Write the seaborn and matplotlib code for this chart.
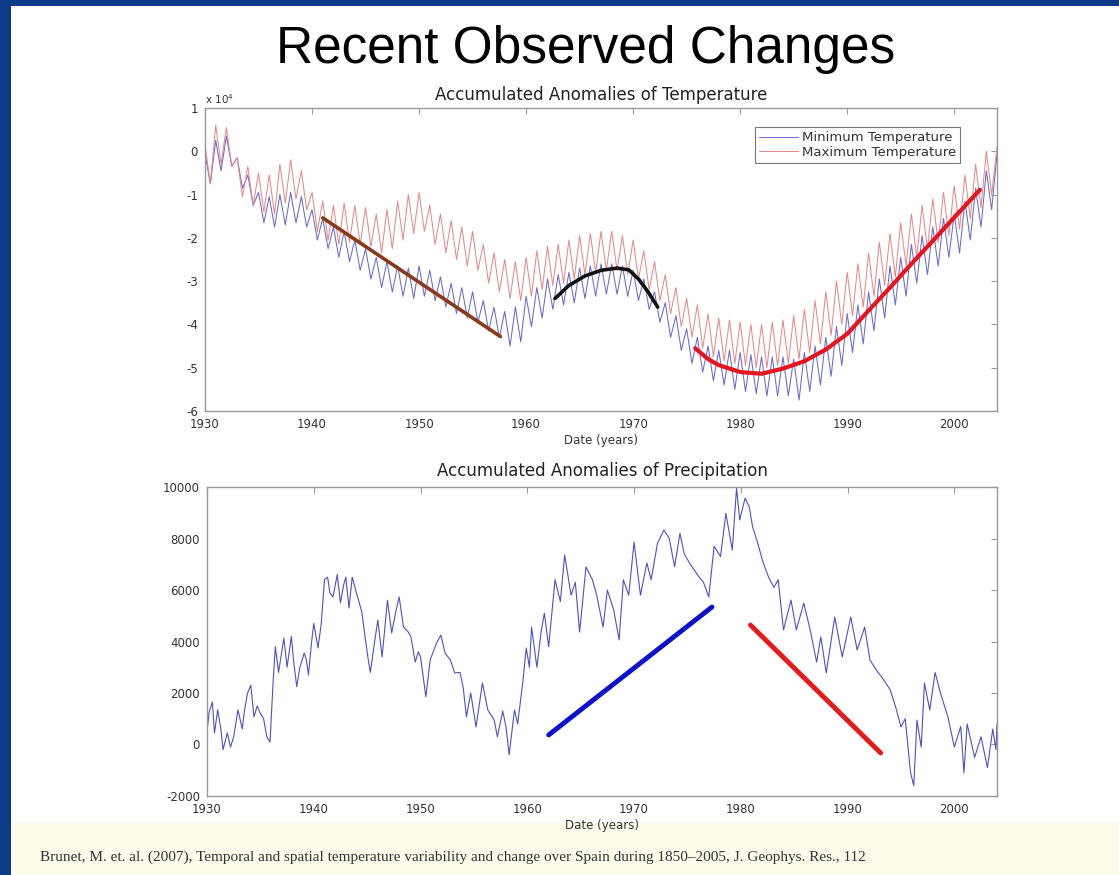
import numpy as np
import pandas as pd
import matplotlib
matplotlib.use("Agg")
import matplotlib.pyplot as plt
import seaborn as sns
from matplotlib.patches import Rectangle

# ---------------- data: temperature (accumulated anomalies, x 10^4) ----------------
crest_years = list(range(1930, 2005))                 # 75 crests
trough_years = [y + 0.5 for y in range(1930, 2004)]   # 74 troughs

tmin_crest = [-0.05, 0.25, 0.35, -0.15, -0.55, -0.95, -1.05, -1.0, -0.95, -1.05,
              -1.35, -1.55, -1.75, -1.85, -2.05, -2.25, -2.45, -2.55, -2.65, -2.7,
              -2.65, -2.75, -2.9, -3.05, -3.15, -3.25, -3.45, -3.6, -3.7, -3.6,
              -3.35, -3.15, -2.95, -2.85, -2.8, -2.7, -2.65, -2.6, -2.6, -2.65,
              -2.75, -2.95, -3.25, -3.5, -3.8, -4.1, -4.3, -4.5, -4.6, -4.6,
              -4.65, -4.7, -4.75, -4.75, -4.75, -4.8, -4.65, -4.5, -4.3, -4.05,
              -3.75, -3.55, -3.25, -2.95, -2.65, -2.45, -2.15, -1.95, -1.75, -1.55,
              -1.45, -1.15, -0.85, -0.45, -0.05]
tmin_trough = [-0.75, -0.45, -0.35, -0.85, -1.25, -1.65, -1.75, -1.7, -1.65, -1.75,
               -2.05, -2.25, -2.45, -2.55, -2.75, -2.95, -3.15, -3.25, -3.35, -3.4,
               -3.35, -3.45, -3.6, -3.75, -3.85, -3.95, -4.15, -4.3, -4.5, -4.4,
               -4.05, -3.85, -3.65, -3.55, -3.5, -3.4, -3.35, -3.3, -3.3, -3.35,
               -3.45, -3.65, -3.95, -4.3, -4.6, -4.9, -5.1, -5.3, -5.4, -5.5,
               -5.55, -5.6, -5.65, -5.65, -5.65, -5.75, -5.55, -5.4, -5.2, -4.95,
               -4.65, -4.45, -4.15, -3.85, -3.55, -3.35, -3.05, -2.85, -2.65, -2.45,
               -2.35, -2.05, -1.75, -1.35]
tmax_crest = [0.15, 0.6, 0.55, -0.15, -0.35, -0.5, -0.55, -0.3, -0.2, -0.45,
              -0.95, -1.15, -1.25, -1.2, -1.25, -1.3, -1.45, -1.35, -1.15, -1.0,
              -0.95, -1.25, -1.45, -1.6, -1.75, -1.85, -2.15, -2.35, -2.5, -2.55,
              -2.45, -2.3, -2.2, -2.15, -2.05, -1.95, -1.9, -1.85, -1.85, -1.95,
              -2.05, -2.3, -2.55, -2.85, -3.15, -3.4, -3.55, -3.75, -3.85, -3.9,
              -3.95, -4.0, -4.0, -3.95, -3.9, -3.8, -3.65, -3.45, -3.25, -3.0,
              -2.8, -2.6, -2.35, -2.1, -1.9, -1.65, -1.45, -1.25, -1.1, -0.95,
              -0.8, -0.55, -0.3, 0.0, 0.1]
tmax_trough = [-0.75, -0.3, -0.35, -1.05, -1.25, -1.4, -1.45, -1.2, -1.1, -1.35,
               -1.85, -2.05, -2.15, -2.1, -2.15, -2.2, -2.35, -2.25, -2.05, -1.9,
               -1.85, -2.15, -2.35, -2.5, -2.65, -2.75, -3.05, -3.25, -3.4, -3.45,
               -3.35, -3.2, -3.1, -3.05, -2.95, -2.85, -2.8, -2.75, -2.75, -2.85,
               -2.95, -3.2, -3.45, -3.75, -4.05, -4.3, -4.55, -4.75, -4.85, -4.9,
               -4.95, -5.0, -5.0, -4.95, -4.9, -4.8, -4.65, -4.45, -4.25, -4.0,
               -3.8, -3.6, -3.35, -3.1, -2.9, -2.65, -2.45, -2.25, -2.1, -1.95,
               -1.8, -1.55, -1.3, -1.0]

fit1_years = [1941.0, 1957.6]
fit1_vals = [-1.54, -4.28]
fit2_years = [1962.7, 1964.0, 1965.5, 1967.0, 1968.5, 1969.6, 1970.5, 1971.4, 1972.3]
fit2_vals = [-3.4, -3.1, -2.88, -2.75, -2.7, -2.74, -2.95, -3.25, -3.6]
fit3_years = [1975.8, 1977.0, 1978.0, 1980.0, 1982.0, 1984.0, 1986.0, 1988.0, 1990.0,
              1992.0, 1994.0, 1996.0, 1998.0, 2000.0, 2002.4]
fit3_vals = [-4.55, -4.8, -4.94, -5.1, -5.14, -5.02, -4.85, -4.58, -4.22,
             -3.68, -3.15, -2.6, -2.07, -1.53, -0.89]

# ---------------- data: precipitation ----------------
prec_years = [1930.0, 1930.2, 1930.5, 1930.7, 1931.0, 1931.3, 1931.5, 1931.9, 1932.2, 1932.5,
              1932.9, 1933.3, 1933.5, 1933.8, 1934.1, 1934.4, 1934.7, 1935.0, 1935.3, 1935.6,
              1935.9, 1936.2, 1936.4, 1936.7, 1937.0, 1937.2, 1937.5, 1937.9, 1938.1, 1938.4,
              1938.7, 1939.1, 1939.3, 1939.5, 1939.8, 1940.0, 1940.4, 1940.7, 1941.0, 1941.3,
              1941.5, 1941.8, 1942.2, 1942.5, 1942.8, 1943.0, 1943.3, 1943.6, 1944.0, 1944.5,
              1944.8, 1945.1, 1945.3, 1945.7, 1946.0, 1946.4, 1946.9, 1947.3, 1947.7, 1948.0,
              1948.4, 1948.8, 1949.1, 1949.5, 1949.8, 1950.0, 1950.5, 1950.9, 1951.5, 1951.9,
              1952.3, 1952.8, 1953.2, 1953.7, 1954.0, 1954.3, 1954.7, 1955.2, 1955.8, 1956.3,
              1956.9, 1957.2, 1957.7, 1958.0, 1958.3, 1958.8, 1959.1, 1959.6, 1959.9, 1960.2,
              1960.4, 1960.9, 1961.3, 1961.6, 1962.0, 1962.6, 1963.1, 1963.5, 1964.1, 1964.5,
              1964.9, 1965.5, 1966.1, 1966.5, 1967.1, 1967.5, 1968.1, 1968.6, 1969.0, 1969.5,
              1970.0, 1970.6, 1971.2, 1971.6, 1972.2, 1972.8, 1973.3, 1973.8, 1974.3, 1974.7,
              1975.2, 1975.6, 1976.1, 1976.5, 1977.0, 1977.5, 1978.1, 1978.6, 1979.2, 1979.6,
              1979.9, 1980.4, 1980.8, 1981.1, 1981.5, 1982.1, 1982.6, 1983.1, 1983.5, 1984.0,
              1984.7, 1985.2, 1985.9, 1986.5, 1987.1, 1987.5, 1988.0, 1988.8, 1989.5, 1990.3,
              1990.9, 1991.6, 1992.1, 1992.7, 1993.4, 1994.0, 1994.5, 1995.0, 1995.4, 1995.9,
              1996.2, 1996.5, 1996.9, 1997.2, 1997.7, 1998.2, 1998.7, 1999.4, 2000.0, 2000.6,
              2000.9, 2001.2, 2001.9, 2002.5, 2003.1, 2003.6, 2003.9, 2004.0]
prec_vals = [500, 1250, 1650, 450, 1350, 600, -200, 450, -100, 300,
             1350, 600, 1300, 2000, 2300, 1070, 1500, 1200, 1000, 300,
             100, 2500, 3800, 2800, 3600, 4130, 3000, 4200, 3300, 2250,
             3000, 3550, 3300, 2700, 4000, 4700, 3750, 4700, 6400, 6500,
             5900, 5730, 6600, 5500, 6200, 6500, 5300, 6500, 5880, 5150,
             4200, 3300, 2800, 4000, 4830, 3400, 5600, 4330, 5200, 5730,
             4560, 4400, 4180, 3200, 3600, 3400, 1850, 3280, 3940, 4250,
             3550, 3280, 2780, 2800, 2200, 1070, 2000, 680, 2390, 1340,
             950, 300, 1300, 700, -400, 1340, 800, 2500, 3750, 3000,
             4560, 3000, 4400, 5100, 3800, 6400, 5550, 7360, 5800, 6300,
             4370, 6900, 6400, 5800, 4560, 6000, 5220, 4060, 6400, 5800,
             7860, 5800, 7050, 6400, 7820, 8330, 8000, 6900, 8200, 7400,
             7050, 6800, 6500, 6300, 5730, 7700, 7300, 8980, 7550, 9960,
             8720, 9570, 9220, 8460, 7940, 7050, 6500, 6100, 6400, 4450,
             5610, 4450, 5490, 4450, 3200, 4180, 2780, 4950, 3400, 4950,
             3670, 4560, 3280, 2890, 2500, 2120, 1460, 680, 1000, -1100,
             -1600, 950, -100, 2390, 1340, 2800, 2000, 1070, -100, 700,
             -1100, 800, -500, 300, -900, 600, -200, 800]

pfit1_years = [1962.0, 1977.3]
pfit1_vals = [370, 5340]
pfit2_years = [1980.9, 1993.1]
pfit2_vals = [4640, -330]

temp_yticks = [-6, -5, -4, -3, -2, -1, 0, 1]
prec_yticks = [-2000, 0, 2000, 4000, 6000, 8000, 10000]
xticks = [1930, 1940, 1950, 1960, 1970, 1980, 1990, 2000]

# ---------------- styling ----------------
sns.set_theme(style="white")
plt.rcParams['font.family'] = ['DejaVu Sans']
plt.rcParams['axes.unicode_minus'] = False

fig = plt.figure(figsize=(11.19, 8.75), dpi=100)
fig.patch.set_facecolor("white")

# slide decorations
fig.add_artist(Rectangle((0, 0), 0.0098, 1, transform=fig.transFigure,
                         facecolor="#0a3a88", edgecolor="none", zorder=0))
fig.add_artist(Rectangle((0, 1 - 0.0069), 1, 0.0069, transform=fig.transFigure,
                         facecolor="#0a3a88", edgecolor="none", zorder=0))
fig.add_artist(Rectangle((0.0098, 0), 1, 0.060, transform=fig.transFigure,
                         facecolor="#fdfbe9", edgecolor="none", zorder=0))

fig.text(0.523, 0.944, "Recent Observed Changes", ha="center", va="center",
         fontsize=37, family="Liberation Sans", color="black")
fig.text(0.036, 0.0206,
         "Brunet, M. et. al. (2007), Temporal and spatial temperature variability and change over Spain during 1850\u20132005, J. Geophys. Res., 112",
         ha="left", va="center", fontsize=11, family="Liberation Serif", color="#333333")

ax1 = fig.add_axes([0.1832, 0.5303, 0.7078, 0.3463])
ax2 = fig.add_axes([0.1850, 0.0903, 0.7060, 0.3531])

# ---------------- top: temperature ----------------
df_t = pd.DataFrame({
    "year": crest_years + trough_years + crest_years + trough_years,
    "value": tmin_crest + tmin_trough + tmax_crest + tmax_trough,
    "series": (["Minimum Temperature"] * (len(crest_years) + len(trough_years))
               + ["Maximum Temperature"] * (len(crest_years) + len(trough_years))),
})
sns.lineplot(data=df_t, x="year", y="value", hue="series",
             palette={"Minimum Temperature": "#6a6ad0", "Maximum Temperature": "#e58a8a"},
             hue_order=["Minimum Temperature", "Maximum Temperature"],
             linewidth=0.75, ax=ax1, estimator=None)
sns.lineplot(x=fit1_years, y=fit1_vals, color="#8a3a16", linewidth=2.6, ax=ax1)
sns.lineplot(x=fit2_years, y=fit2_vals, color="#111111", linewidth=2.6, ax=ax1, sort=False)
sns.lineplot(x=fit3_years, y=fit3_vals, color="#e8141c", linewidth=3.0, ax=ax1, sort=False)

ax1.set_xlim(1930, 2004)
ax1.set_ylim(-6, 1)
ax1.set_yticks(temp_yticks)
ax1.set_xticks(xticks)
ax1.set_title("Accumulated Anomalies of Temperature", fontsize=12, color="#222222", pad=6)
ax1.set_xlabel("Date (years)", fontsize=8.5, color="#333333", labelpad=2)
ax1.set_ylabel("")
ax1.text(0.0, 1.008, r"x 10$^4$", transform=ax1.transAxes, fontsize=7.5,
         color="#333333", ha="left", va="bottom")
leg = ax1.legend(loc="upper right", bbox_to_anchor=(0.962, 0.958), fontsize=9.5,
                 frameon=True, fancybox=False, handlelength=3.0, borderpad=0.3,
                 labelspacing=0.1, handletextpad=0.3)
leg.get_frame().set_edgecolor("#555555")
leg.get_frame().set_linewidth(0.8)
for t in leg.get_texts():
    t.set_color("#333333")

# ---------------- bottom: precipitation ----------------
df_p = pd.DataFrame({"year": prec_years, "value": prec_vals})
sns.lineplot(data=df_p, x="year", y="value", color="#5050c4", linewidth=0.8, ax=ax2)
sns.lineplot(x=pfit1_years, y=pfit1_vals, color="#0a10cc", linewidth=3.5, ax=ax2)
sns.lineplot(x=pfit2_years, y=pfit2_vals, color="#e61a1a", linewidth=3.5, ax=ax2)

ax2.set_xlim(1930, 2004)
ax2.set_ylim(-2000, 10000)
ax2.set_yticks(prec_yticks)
ax2.set_xticks(xticks)
ax2.set_title("Accumulated Anomalies of Precipitation", fontsize=12, color="#222222", pad=8)
ax2.set_xlabel("Date (years)", fontsize=8.5, color="#333333", labelpad=2)
ax2.set_ylabel("")

for ax in (ax1, ax2):
    for s in ax.spines.values():
        s.set_color("#999999")
        s.set_linewidth(1.0)
    ax.tick_params(direction="in", length=4, width=0.8, color="#999999",
                   top=True, right=True, labelsize=8.5, labelcolor="#333333", pad=5)

fig.savefig("out.png", dpi=100, facecolor=fig.get_facecolor())
